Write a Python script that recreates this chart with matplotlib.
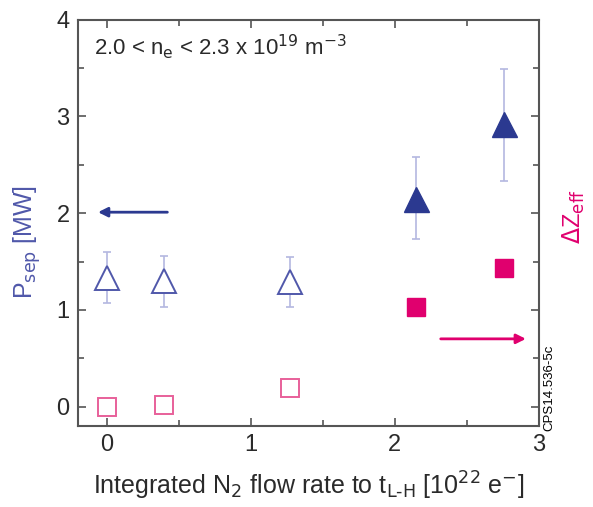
import numpy as np
import matplotlib
matplotlib.use("Agg")
import matplotlib.pyplot as plt

plt.rcParams['font.family'] = ['Liberation Sans', 'DejaVu Sans']

# P_sep, before L-H (open) and after (filled)
x_open = [0.0, 0.40, 1.27]
p_open = [1.33, 1.30, 1.29]
p_open_lo = [1.07, 1.03, 1.03]
p_open_hi = [1.60, 1.56, 1.55]

x_fill = [2.15, 2.76]
p_fill = [2.15, 2.92]
p_fill_lo = [1.73, 2.33]
p_fill_hi = [2.58, 3.49]

# delta Z_eff
z_open = [0.0, 0.02, 0.19]
z_fill = [1.03, 1.43]

blue_dark = '#2b3990'
blue_open = '#5058aa'
blue_err = '#b4b8e0'
pink = '#e0006e'
pink_open = '#e8609a'
txt = '#2a2a2a'

fig = plt.figure(figsize=(5.93, 5.07), dpi=100)
ax = fig.add_axes([0.1315, 0.160, 0.777, 0.801])

def errs(y, lo, hi):
    y = np.array(y)
    return [y - np.array(lo), np.array(hi) - y]

ax.errorbar(x_open, p_open, yerr=errs(p_open, p_open_lo, p_open_hi), fmt='none',
            ecolor=blue_err, elinewidth=1.2, capsize=3, capthick=1.2, zorder=2)
ax.errorbar(x_fill, p_fill, yerr=errs(p_fill, p_fill_lo, p_fill_hi), fmt='none',
            ecolor=blue_err, elinewidth=1.2, capsize=3, capthick=1.2, zorder=2)
ax.plot(x_open, p_open, '^', ms=17, mfc='white', mec=blue_open, mew=1.4, ls='none', zorder=3)
ax.plot(x_fill, p_fill, '^', ms=18, mfc=blue_dark, mec=blue_dark, ls='none', zorder=3)

ax.plot(x_open, z_open, 's', ms=13, mfc='white', mec=pink_open, mew=1.4, ls='none', zorder=3)
ax.plot(x_fill, z_fill, 's', ms=13.5, mfc=pink, mec=pink, ls='none', zorder=3)

# axis arrows
ax.annotate('', xy=(-0.08, 2.01), xytext=(0.44, 2.01),
            arrowprops=dict(arrowstyle='-|>', color=blue_dark, lw=2, mutation_scale=14))
ax.annotate('', xy=(2.93, 0.70), xytext=(2.30, 0.70),
            arrowprops=dict(arrowstyle='-|>', color=pink, lw=2, mutation_scale=14))

ax.set_xlim(-0.2, 3)
ax.set_ylim(-0.2, 4)
ax.set_xticks([0, 1, 2, 3])
ax.set_xticks([0.5, 1.5, 2.5], minor=True)
ax.set_yticks([0, 1, 2, 3, 4])
ax.set_yticks([0.5, 1.5, 2.5, 3.5], minor=True)
ax.tick_params(which='both', direction='in', top=True, right=True, labelright=False,
               color='#555555', width=1.2, labelsize=17, labelcolor=txt, pad=6)
ax.tick_params(which='major', length=6)
ax.tick_params(which='minor', length=4)
for s in ax.spines.values():
    s.set_color('#555555')
    s.set_linewidth(1.5)

ax.set_xlabel(r'Integrated N$_2$ flow rate to t$_{\mathrm{L\text{-}H}}$ [10$^{22}$ e$^{-}$]',
              fontsize=18, color=txt, labelpad=10)

ax.text(0.035, 0.915, r'2.0 < n$_\mathrm{e}$ < 2.3 x 10$^{19}$ m$^{-3}$',
        transform=ax.transAxes, fontsize=16, color=txt)

fig.text(0.045, 0.523, r'P$_{\mathrm{sep}}$ [MW]', rotation=90, fontsize=18,
         color=blue_open, ha='center', va='center')
fig.text(0.968, 0.572, r'$\Delta$Z$_{\mathrm{eff}}$', rotation=90, fontsize=17,
         color=pink, ha='center', va='center')
fig.text(0.926, 0.235, 'CPS14.536-5c', rotation=90, fontsize=9.5,
         color='black', ha='center', va='center')

fig.savefig('out.png', dpi=100)
